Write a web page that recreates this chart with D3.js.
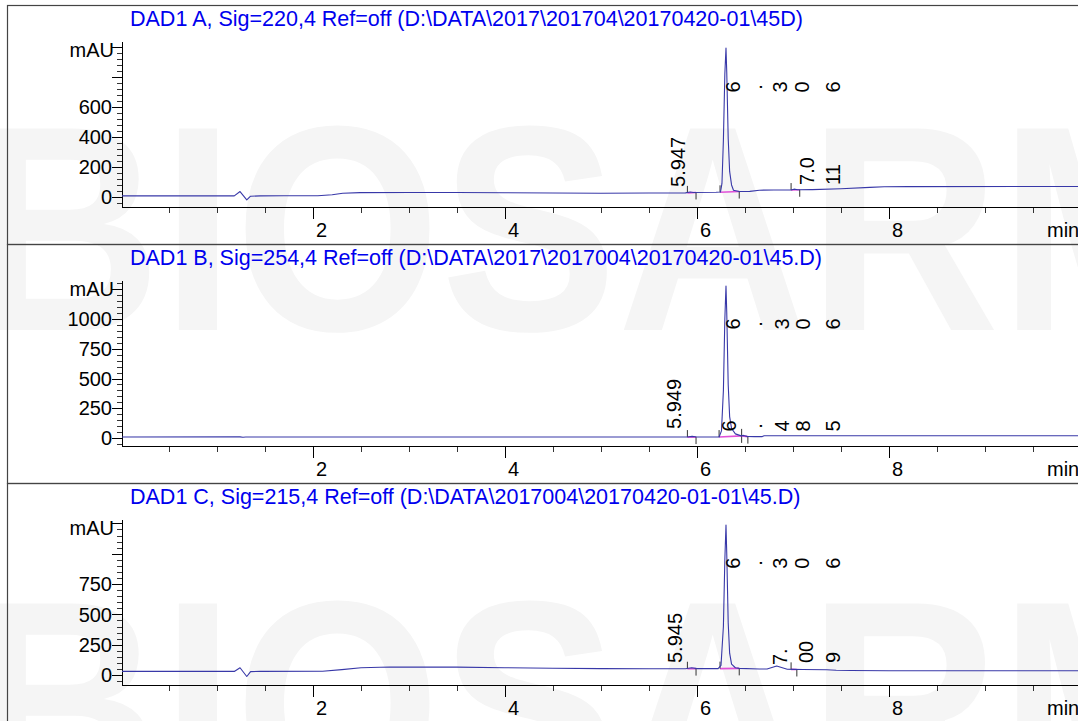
<!DOCTYPE html>
<html><head><meta charset="utf-8">
<script src="https://cdn.jsdelivr.net/npm/d3@7"></script>
<style>html,body{margin:0;padding:0;background:#fff;overflow:hidden}svg{display:block;font-family:"Liberation Sans",Arial,sans-serif}</style>
</head><body><svg id="c" width="1078" height="721"></svg>
<script>
// ---------------- data ----------------
const titles = [
  "DAD1 A, Sig=220,4 Ref=off (D:\\DATA\\2017\\201704\\20170420-01\\45D)",
  "DAD1 B, Sig=254,4 Ref=off (D:\\DATA\\2017\\2017004\\20170420-01\\45.D)",
  "DAD1 C, Sig=215,4 Ref=off (D:\\DATA\\2017004\\20170420-01-01\\45.D)"
];
const timeMajorTicks = [2, 4, 6, 8];
const timeUnit = "min";
const yUnit = "mAU";
const yLabelsA = [0, 200, 400, 600];
const yMajorA = [0, 200, 400, 600, 800, 1000];
const yLabelsB = [0, 250, 500, 750, 1000];
const yMajorB = [0, 250, 500, 750, 1000, 1250];
const yLabelsC = [0, 250, 500, 750];
const yMajorC = [0, 250, 500, 750, 1000, 1250];

const seriesA = [[0,7],[1.18,7],[1.24,36],[1.31,-20],[1.35,5],[1.45,7],[1.69,8],[2.05,8],[2.2,15],[2.31,25],[2.49,29],[3.0,30],[3.5,30],[4.0,28],[4.5,26],[5.0,25],[5.5,26],[5.88,27],[5.93,33],[5.96,30],[6.2,31],[6.245,33],[6.26,90],[6.275,380],[6.29,820],[6.302,993],[6.31,830],[6.325,390],[6.34,170],[6.36,80],[6.38,45],[6.44,36],[6.55,37],[6.65,45],[6.8,46],[6.98,46],[7.01,52],[7.05,48],[7.2,49],[7.5,55],[7.8,64],[7.95,68],[8.2,69],[10,70]];
const seriesB = [[0,8],[1.24,10],[1.27,6],[1.3,8],[5.9,8],[5.949,14],[6.0,8],[6.23,9],[6.255,60],[6.275,400],[6.29,1000],[6.302,1277],[6.31,1050],[6.325,450],[6.34,180],[6.36,80],[6.4,35],[6.46,18],[6.485,22],[6.52,14],[6.6,12],[6.68,12],[6.7,19],[10,19]];
const seriesC = [[0,30],[1.18,30],[1.24,60],[1.31,-12],[1.35,28],[1.45,30],[2.1,31],[2.3,45],[2.5,60],[2.8,66],[3.5,65],[4.0,60],[4.5,56],[5.0,53],[5.5,52],[5.88,52],[5.945,60],[6.0,53],[6.22,53],[6.25,80],[6.275,400],[6.29,950],[6.302,1237],[6.31,1000],[6.325,430],[6.34,180],[6.36,90],[6.4,60],[6.44,55],[6.65,50],[6.73,50],[6.83,74],[6.94,48],[7.009,47],[7.1,46],[7.35,44],[7.45,39],[7.6,37],[8.0,36],[10,36]];

// integration events [start, end] in minutes
const integA = [[5.90,5.99],[6.24,6.44],[6.98,7.07]];
const integB = [[5.90,5.99],[6.23,6.465],[6.465,6.53]];
const integC = [[5.90,5.99],[6.24,6.44],[6.98,7.04]];

// peak labels: [time, mAU, text, anchor]
const labelsA = [[5.80,67,"5.947","start"],[7.146,80,"7.0","start"],[7.417,80,"11","start"],
  [6.375,733,"6","middle"],[6.60,733,".","middle"],[6.865,733,"3","middle"],[7.094,733,"0","middle"],[7.417,733,"6","middle"]];
const labelsB = [[5.76,76,"5.949","start"],
  [6.375,958,"6","middle"],[6.60,958,".","middle"],[6.885,958,"3","middle"],[7.104,958,"0","middle"],[7.417,958,"6","middle"],
  [6.33,101,"6","middle"],[6.60,101,".","middle"],[6.885,101,"4","middle"],[7.104,101,"8","middle"],[7.417,101,"5","middle"]];
const labelsC = [[5.77,99,"5.945","start"],
  [6.375,923,"6","middle"],[6.60,923,".","middle"],[6.865,923,"3","middle"],[7.094,923,"0","middle"],[7.417,923,"6","middle"],
  [6.865,82,"7.","start"],[7.14,99,"00","start"],[7.417,99,"9","start"]];

const watermark = "BIOSARM";

// ---------------- drawing ----------------
const W = 1078, H = 721;
const svg = d3.select("#c");
svg.append("rect").attr("width", W).attr("height", H).attr("fill", "#fff");

// watermark
[330, 805].forEach(by => {
  svg.append("text").text(watermark)
    .attr("x", -30).attr("y", by)
    .attr("textLength", 1250).attr("lengthAdjust", "spacingAndGlyphs")
    .attr("font-size", 293).attr("font-weight", "bold")
    .attr("fill", "#f5f5f5");
});

const panels = [
  {top: 5, title: titles[0], data: seriesA, dom: [-67, 1033], labels: yLabelsA, major: yMajorA, minor: 40, integ: integA, peaks: labelsA},
  {top: 244, title: titles[1], data: seriesB, dom: [-67, 1319], labels: yLabelsB, major: yMajorB, minor: 50, integ: integB, peaks: labelsB},
  {top: 483, title: titles[2], data: seriesC, dom: [-82, 1278], labels: yLabelsC, major: yMajorC, minor: 50, integ: integC, peaks: labelsC}
];

const x = d3.scaleLinear().domain([0, 10]).range([121, 1081]);
const axisX = 122;

panels.forEach((p, i) => {
  const g = svg.append("g");
  const axTop = p.top + 37, axBot = p.top + 202;
  const y = d3.scaleLinear().domain(p.dom).range([axBot, axTop]);

  // frame
  g.append("rect").attr("x", 7.5).attr("y", p.top + 0.5).attr("width", W + 10).attr("height", 239)
    .attr("fill", "none").attr("stroke", "#444").attr("stroke-width", 1.2);

  // title
  g.append("text").text(p.title).attr("x", 130).attr("y", p.top + 21)
    .attr("font-size", 21.5).attr("fill", "#0000ee");

  // clip
  const cid = "clip" + i;
  svg.append("clipPath").attr("id", cid).append("rect")
    .attr("x", axisX).attr("y", axTop - 2).attr("width", W - axisX).attr("height", axBot - axTop + 2);

  // y axis
  g.append("line").attr("x1", axisX + 0.5).attr("x2", axisX + 0.5).attr("y1", axTop).attr("y2", axBot).attr("stroke", "#000");
  const minors = d3.range(Math.ceil(p.dom[0] / p.minor) * p.minor, p.dom[1], p.minor);
  g.selectAll(null).data(minors).join("line")
    .attr("x1", axisX - 5).attr("x2", axisX).attr("y1", d => Math.round(y(d)) + 0.5).attr("y2", d => Math.round(y(d)) + 0.5)
    .attr("stroke", "#000").attr("stroke-width", 0.8);
  g.selectAll(null).data(p.major).join("line")
    .attr("x1", axisX - 10).attr("x2", axisX).attr("y1", d => Math.round(y(d)) + 0.5).attr("y2", d => Math.round(y(d)) + 0.5)
    .attr("stroke", "#000");
  g.selectAll(null).data(p.labels).join("text")
    .text(d => d).attr("x", axisX - 10).attr("y", d => y(d)).attr("dy", "0.36em")
    .attr("text-anchor", "end").attr("font-size", 20).attr("fill", "#000");
  g.append("text").text(yUnit).attr("x", axisX - 8).attr("y", axTop + 15)
    .attr("text-anchor", "end").attr("font-size", 20).attr("fill", "#000");

  // x axis
  g.append("line").attr("x1", axisX).attr("x2", W).attr("y1", axBot + 0.5).attr("y2", axBot + 0.5).attr("stroke", "#000");
  const tminor = d3.range(0.5, 10.01, 0.5).filter(t => !timeMajorTicks.includes(t));
  g.selectAll(null).data(tminor).join("line")
    .attr("x1", d => Math.round(x(d)) + 0.5).attr("x2", d => Math.round(x(d)) + 0.5)
    .attr("y1", axBot).attr("y2", axBot + 6).attr("stroke", "#000").attr("stroke-width", 0.8);
  g.selectAll(null).data(timeMajorTicks).join("line")
    .attr("x1", d => Math.round(x(d)) + 0.5).attr("x2", d => Math.round(x(d)) + 0.5)
    .attr("y1", axBot).attr("y2", axBot + 12).attr("stroke", "#000");
  g.selectAll(null).data(timeMajorTicks).join("text")
    .text(d => d).attr("x", d => x(d) + 3).attr("y", axBot + 30)
    .attr("font-size", 20).attr("fill", "#000");
  g.append("text").text(timeUnit).attr("x", 1047).attr("y", axBot + 30).attr("font-size", 20).attr("fill", "#000");

  // integration baselines and markers
  const pd = g.append("g").attr("clip-path", `url(#${cid})`);
  const baseAt = t => {
    const b = d3.bisector(d => d[0]).left(p.data, t);
    const a = p.data[Math.max(0, b - 1)], c = p.data[Math.min(p.data.length - 1, b)];
    return Math.min(a[1], c[1]);
  };
  p.integ.forEach(([s, e]) => {
    const vs = baseAt(s), ve = baseAt(e);
    pd.append("line").attr("x1", x(s)).attr("x2", x(e)).attr("y1", y(vs)).attr("y2", y(ve))
      .attr("stroke", "#e050d8").attr("stroke-width", 1.6);
    pd.append("line").attr("x1", x(s)).attr("x2", x(s)).attr("y1", y(vs)).attr("y2", y(vs) - 7).attr("stroke", "#333");
    pd.append("line").attr("x1", x(e)).attr("x2", x(e)).attr("y1", y(ve)).attr("y2", y(ve) + 7).attr("stroke", "#333");
  });

  // trace
  const line = d3.line().x(d => x(d[0])).y(d => y(d[1]));
  pd.append("path").datum(p.data).attr("d", line).attr("fill", "none")
    .attr("stroke", "#3838a8").attr("stroke-width", 1.1).attr("stroke-linejoin", "round");

  // peak labels
  g.selectAll(null).data(p.peaks).join("text")
    .text(d => d[2])
    .attr("transform", d => `translate(${x(d[0])},${y(d[1])}) rotate(-90)`)
    .attr("text-anchor", d => d[3]).attr("dominant-baseline", "central")
    .attr("font-size", 20).attr("fill", "#000");
});
</script></body></html>
